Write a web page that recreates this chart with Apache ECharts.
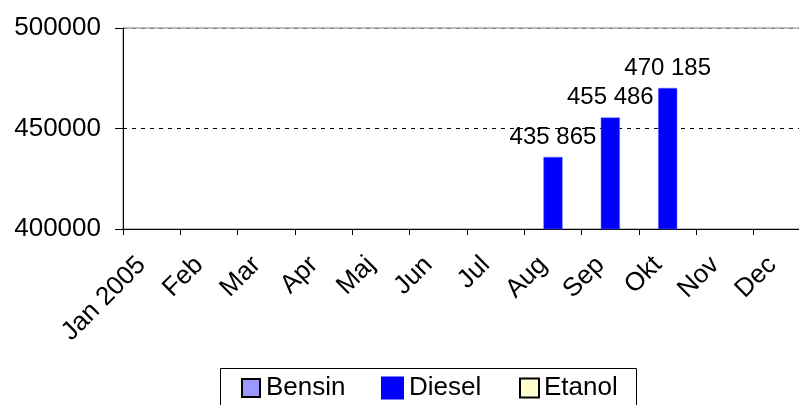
<!DOCTYPE html>
<html>
<head>
<meta charset="utf-8">
<script src="https://cdn.jsdelivr.net/npm/echarts@6/dist/echarts.min.js"></script>
<style>
html,body{margin:0;padding:0;background:#fff;}
#c{width:799px;height:405px;}
</style>
</head>
<body>
<div id="c"></div>
<script>
const categories = ['Jan 2005','Feb','Mar','Apr','Maj','Jun','Jul','Aug','Sep','Okt','Nov','Dec'];
const bensin = [null,null,null,null,null,null,null,null,null,null,null,null];
const diesel = [null,null,null,null,null,null,null,435865,455486,470185,null,null];
const etanol = [null,null,null,null,null,null,null,null,null,null,null,null];
const yTicks = [400000,450000,500000];

const FONT = 'Liberation Sans, Arial, sans-serif';
const chart = echarts.init(document.getElementById('c'), null, {renderer:'canvas'});
function fmt(v){ return String(v).replace(/\B(?=(\d{3})+(?!\d))/g,' '); }
const legendBase = {top:375, padding:0, icon:'rect', itemGap:0,
  textStyle:{fontFamily:FONT, fontSize:26, color:'#000', padding:[0,0,0,0]}};
chart.setOption({
  animation:false,
  backgroundColor:'#fff',
  grid:{left:123, top:28, right:-12, bottom:176, outerBoundsMode:'none', containLabel:false,
    show:true, borderColor:'#808080', borderWidth:1, backgroundColor:'transparent'},
  xAxis:{type:'category', data:categories,
    axisLine:{lineStyle:{color:'#000', width:1}},
    axisTick:{show:true, length:6, lineStyle:{color:'#000'}},
    axisLabel:{rotate:45, interval:0, margin:22, padding:[0,14,0,0], fontFamily:FONT, fontSize:26, color:'#000'}},
  yAxis:{type:'value', min:yTicks[0], max:yTicks[yTicks.length-1], interval:50000,
    axisLine:{show:true, lineStyle:{color:'#000', width:1}},
    axisTick:{show:true, length:8, lineStyle:{color:'#000'}},
    axisLabel:{margin:22, fontFamily:FONT, fontSize:26, color:'#000', formatter:v=>String(v)},
    splitLine:{show:true, lineStyle:{color:['#000','#000','#808080'], type:[4,5], width:1}}},
  legend:[
    Object.assign({}, legendBase, {data:['Bensin'], left:241, itemWidth:18, itemHeight:18, textStyle:Object.assign({}, legendBase.textStyle, {padding:[0,0,0,1]})}),
    Object.assign({}, legendBase, {data:['Diesel'], left:381, itemWidth:23, itemHeight:23, itemStyle:{borderWidth:0}}),
    Object.assign({}, legendBase, {data:['Etanol'], left:519, itemWidth:19, itemHeight:19})
  ],
  graphic:[{type:'rect', shape:{x:220.5, y:368.5, width:416, height:44}, style:{fill:'none', stroke:'#000', lineWidth:1}, silent:true}],
  series:[
    {name:'Bensin', type:'bar', data:bensin, barGap:'0%', barCategoryGap:'0%',
      itemStyle:{color:'#9999FF', borderColor:'#000', borderWidth:1}},
    {name:'Diesel', type:'bar', data:diesel, barGap:'0%', barCategoryGap:'0%',
      itemStyle:{color:'#0000FF', borderColor:'#6666FF', borderWidth:0.5},
      label:{show:true, position:'top', distance:8, formatter:p=>fmt(p.value), fontFamily:FONT, fontSize:24, color:'#000'}},
    {name:'Etanol', type:'bar', data:etanol, barGap:'0%', barCategoryGap:'0%',
      itemStyle:{color:'#FFFFCC', borderColor:'#000', borderWidth:1}}
  ]
});
</script>
</body>
</html>
